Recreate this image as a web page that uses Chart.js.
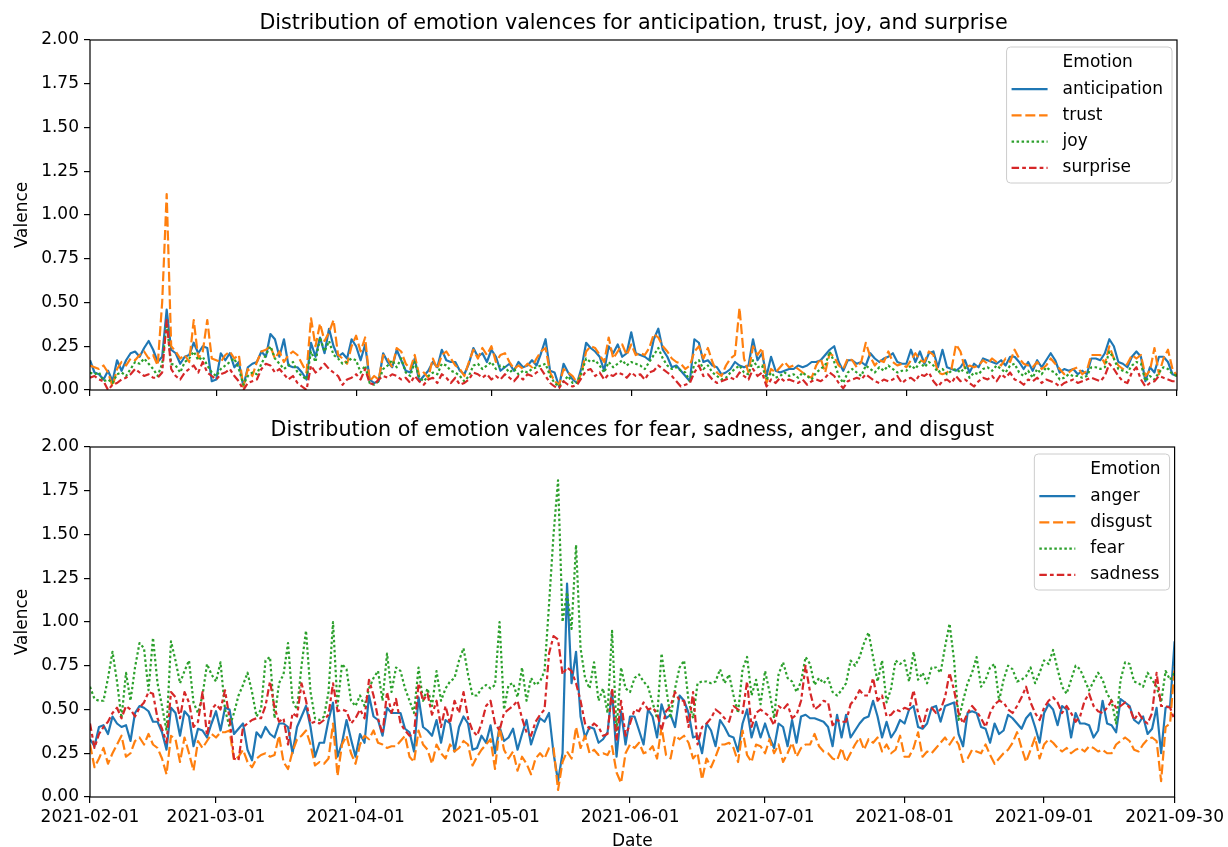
<!DOCTYPE html>
<html>
<head>
<meta charset="utf-8">
<script src="https://cdn.jsdelivr.net/npm/chart.js@4.4.1/dist/chart.umd.min.js"></script>
<style>
body { margin: 0; background: #fff; }
#wrap { position: relative; width: 1228px; height: 847px; }
canvas { position: absolute; left: 0; }
</style>
</head>
<body>
<div id="wrap">
  <canvas id="top_chart" width="1228" height="406" style="top:0px"></canvas>
  <canvas id="bottom_chart" width="1228" height="447" style="top:400px"></canvas>
</div>
<script>
// days since 2021-02-01 (one value per day, 2021-02-01 .. 2021-09-30)
const tickDays = [0, 28, 59, 89, 120, 150, 181, 212, 241];
const tickLabels = ['2021-02-01', '2021-03-01', '2021-04-01', '2021-05-01', '2021-06-01',
                    '2021-07-01', '2021-08-01', '2021-09-01', '2021-09-30'];

const topTitle = 'Distribution of emotion valences for anticipation, trust, joy, and surprise';
const bottomTitle = 'Distribution of emotion valences for fear, sadness, anger, and disgust';

const anticipation = [
  0.17,0.10,0.09,0.06,0.11,0.05,0.17,0.11,0.17,0.21,
  0.22,0.19,0.24,0.28,0.23,0.16,0.19,0.46,0.23,0.21,
  0.15,0.19,0.20,0.27,0.21,0.25,0.24,0.05,0.06,0.21,
  0.17,0.21,0.13,0.16,0.02,0.13,0.15,0.16,0.22,0.19,
  0.32,0.29,0.19,0.29,0.14,0.13,0.13,0.10,0.06,0.27,
  0.19,0.30,0.21,0.35,0.25,0.19,0.21,0.18,0.29,0.25,
  0.17,0.26,0.06,0.04,0.05,0.21,0.16,0.13,0.23,0.17,
  0.11,0.10,0.18,0.05,0.08,0.11,0.16,0.13,0.23,0.17,
  0.16,0.16,0.11,0.09,0.15,0.24,0.19,0.21,0.16,0.23,
  0.19,0.11,0.13,0.15,0.11,0.16,0.13,0.14,0.17,0.14,
  0.21,0.29,0.11,0.10,0.02,0.15,0.10,0.06,0.04,0.13,
  0.27,0.24,0.22,0.19,0.11,0.25,0.21,0.26,0.19,0.21,
  0.33,0.21,0.20,0.19,0.17,0.29,0.35,0.23,0.19,0.13,
  0.14,0.11,0.08,0.05,0.29,0.27,0.16,0.17,0.14,0.13,
  0.09,0.10,0.12,0.16,0.14,0.13,0.14,0.29,0.17,0.21,
  0.08,0.19,0.11,0.10,0.11,0.12,0.12,0.14,0.13,0.14,
  0.16,0.16,0.17,0.20,0.23,0.25,0.16,0.11,0.17,0.17,
  0.15,0.16,0.14,0.21,0.18,0.16,0.18,0.19,0.21,0.16,
  0.15,0.15,0.23,0.16,0.22,0.15,0.21,0.22,0.13,0.23,
  0.13,0.12,0.11,0.13,0.17,0.10,0.15,0.13,0.18,0.17,
  0.16,0.15,0.17,0.14,0.19,0.19,0.16,0.12,0.16,0.11,
  0.17,0.13,0.17,0.21,0.17,0.10,0.12,0.11,0.12,0.09,
  0.11,0.09,0.18,0.18,0.17,0.21,0.29,0.25,0.16,0.15,
  0.13,0.19,0.22,0.19,0.05,0.13,0.10,0.19,0.19,0.16,
  0.09,0.08
];
const trust = [
  0.14,0.13,0.12,0.14,0.10,0.02,0.12,0.16,0.14,0.18,
  0.17,0.20,0.22,0.18,0.20,0.14,0.50,1.12,0.25,0.22,
  0.18,0.20,0.16,0.40,0.18,0.22,0.40,0.18,0.17,0.16,
  0.20,0.22,0.18,0.20,0.02,0.12,0.08,0.16,0.22,0.23,
  0.25,0.18,0.22,0.16,0.20,0.22,0.20,0.15,0.10,0.41,
  0.25,0.38,0.28,0.33,0.40,0.20,0.18,0.15,0.25,0.31,
  0.22,0.30,0.05,0.08,0.06,0.20,0.18,0.13,0.24,0.22,
  0.15,0.12,0.20,0.08,0.10,0.07,0.18,0.12,0.20,0.22,
  0.18,0.14,0.12,0.08,0.16,0.23,0.18,0.24,0.20,0.25,
  0.16,0.20,0.21,0.16,0.12,0.14,0.12,0.15,0.13,0.18,
  0.22,0.24,0.10,0.05,0.03,0.12,0.10,0.08,0.04,0.10,
  0.22,0.25,0.24,0.20,0.16,0.30,0.18,0.22,0.26,0.20,
  0.26,0.20,0.21,0.20,0.24,0.32,0.30,0.25,0.22,0.18,
  0.16,0.15,0.12,0.14,0.22,0.25,0.18,0.24,0.16,0.10,
  0.08,0.14,0.18,0.20,0.47,0.18,0.10,0.25,0.20,0.24,
  0.04,0.12,0.10,0.13,0.16,0.13,0.14,0.12,0.10,0.08,
  0.07,0.14,0.18,0.10,0.21,0.19,0.14,0.12,0.18,0.17,
  0.13,0.16,0.27,0.19,0.14,0.17,0.16,0.22,0.16,0.14,
  0.15,0.13,0.17,0.21,0.17,0.16,0.22,0.20,0.10,0.09,
  0.10,0.12,0.26,0.22,0.12,0.14,0.13,0.14,0.17,0.15,
  0.18,0.16,0.14,0.18,0.16,0.23,0.18,0.15,0.14,0.13,
  0.16,0.12,0.14,0.18,0.15,0.12,0.09,0.10,0.12,0.13,
  0.09,0.11,0.20,0.20,0.20,0.15,0.25,0.18,0.14,0.12,
  0.15,0.20,0.18,0.20,0.08,0.11,0.24,0.09,0.18,0.23,
  0.12,0.08
];
const joy = [
  0.10,0.09,0.10,0.05,0.06,0.04,0.09,0.10,0.08,0.12,
  0.16,0.15,0.18,0.15,0.12,0.08,0.15,0.38,0.15,0.14,
  0.10,0.16,0.18,0.22,0.17,0.19,0.14,0.10,0.08,0.12,
  0.14,0.16,0.18,0.12,0.03,0.08,0.10,0.09,0.15,0.20,
  0.25,0.18,0.15,0.12,0.14,0.16,0.10,0.08,0.06,0.22,
  0.16,0.30,0.22,0.28,0.20,0.18,0.15,0.16,0.18,0.17,
  0.10,0.14,0.04,0.03,0.05,0.12,0.14,0.17,0.13,0.18,
  0.10,0.08,0.16,0.07,0.05,0.08,0.10,0.09,0.15,0.14,
  0.11,0.10,0.08,0.05,0.08,0.14,0.15,0.12,0.14,0.16,
  0.12,0.14,0.13,0.10,0.12,0.09,0.11,0.10,0.12,0.13,
  0.14,0.15,0.08,0.04,0.02,0.05,0.08,0.04,0.04,0.10,
  0.18,0.16,0.17,0.14,0.10,0.16,0.13,0.15,0.17,0.14,
  0.16,0.15,0.14,0.12,0.16,0.20,0.24,0.18,0.14,0.12,
  0.13,0.11,0.10,0.05,0.15,0.17,0.12,0.14,0.10,0.08,
  0.06,0.07,0.10,0.12,0.14,0.10,0.09,0.17,0.13,0.14,
  0.06,0.10,0.07,0.08,0.10,0.08,0.09,0.07,0.10,0.08,
  0.06,0.10,0.12,0.14,0.22,0.16,0.08,0.04,0.10,0.12,
  0.10,0.08,0.14,0.12,0.10,0.13,0.11,0.14,0.12,0.10,
  0.11,0.11,0.14,0.12,0.16,0.13,0.16,0.14,0.10,0.12,
  0.09,0.11,0.12,0.10,0.13,0.07,0.10,0.09,0.12,0.13,
  0.11,0.14,0.12,0.10,0.14,0.15,0.10,0.08,0.11,0.07,
  0.12,0.09,0.13,0.11,0.10,0.06,0.07,0.09,0.08,0.08,
  0.07,0.08,0.13,0.13,0.12,0.13,0.22,0.18,0.12,0.11,
  0.10,0.14,0.16,0.15,0.05,0.08,0.06,0.10,0.13,0.12,
  0.09,0.08
];
const surprise = [
  0.07,0.08,0.06,0.05,0.00,0.03,0.04,0.06,0.07,0.09,
  0.12,0.10,0.08,0.09,0.07,0.07,0.10,0.40,0.12,0.08,
  0.06,0.10,0.12,0.14,0.10,0.16,0.10,0.08,0.06,0.09,
  0.10,0.12,0.08,0.05,0.00,0.04,0.05,0.06,0.12,0.15,
  0.14,0.10,0.12,0.09,0.06,0.08,0.04,0.02,0.00,0.14,
  0.10,0.12,0.15,0.12,0.10,0.08,0.03,0.06,0.07,0.09,
  0.06,0.12,0.04,0.03,0.06,0.08,0.07,0.09,0.08,0.06,
  0.07,0.04,0.08,0.05,0.03,0.06,0.07,0.04,0.09,0.07,
  0.04,0.07,0.03,0.04,0.06,0.10,0.09,0.07,0.09,0.06,
  0.08,0.06,0.09,0.07,0.05,0.08,0.06,0.09,0.08,0.10,
  0.12,0.08,0.04,0.02,0.01,0.05,0.03,0.02,0.03,0.07,
  0.11,0.12,0.08,0.10,0.06,0.09,0.08,0.10,0.09,0.07,
  0.10,0.08,0.09,0.06,0.10,0.11,0.14,0.12,0.10,0.08,
  0.05,0.02,0.03,0.04,0.10,0.14,0.08,0.09,0.06,0.04,
  0.05,0.06,0.07,0.06,0.10,0.08,0.06,0.12,0.08,0.10,
  0.02,0.06,0.04,0.07,0.05,0.06,0.05,0.04,0.06,0.03,
  0.05,0.06,0.05,0.07,0.10,0.08,0.04,0.01,0.05,0.06,
  0.07,0.06,0.09,0.07,0.05,0.04,0.06,0.05,0.06,0.08,
  0.04,0.06,0.07,0.05,0.09,0.08,0.10,0.05,0.02,0.05,
  0.06,0.04,0.08,0.05,0.06,0.04,0.02,0.05,0.07,0.06,
  0.08,0.05,0.09,0.07,0.10,0.06,0.05,0.03,0.06,0.05,
  0.07,0.04,0.06,0.05,0.04,0.02,0.04,0.05,0.06,0.04,
  0.05,0.06,0.07,0.06,0.05,0.08,0.15,0.12,0.08,0.05,
  0.04,0.10,0.13,0.06,0.02,0.04,0.05,0.08,0.07,0.06,
  0.05,0.05
];

const anger = [
  0.33,0.29,0.40,0.41,0.36,0.46,0.42,0.40,0.41,0.32,
  0.48,0.52,0.51,0.49,0.43,0.43,0.37,0.27,0.51,0.48,
  0.35,0.49,0.46,0.29,0.39,0.38,0.34,0.42,0.49,0.38,
  0.51,0.50,0.36,0.39,0.42,0.27,0.21,0.37,0.34,0.40,
  0.36,0.34,0.42,0.42,0.40,0.25,0.40,0.46,0.52,0.40,
  0.23,0.31,0.31,0.44,0.54,0.23,0.31,0.44,0.33,0.23,
  0.36,0.31,0.58,0.46,0.44,0.35,0.51,0.48,0.48,0.48,
  0.39,0.37,0.26,0.57,0.40,0.38,0.35,0.44,0.31,0.44,
  0.42,0.26,0.40,0.46,0.42,0.27,0.28,0.35,0.31,0.41,
  0.25,0.40,0.32,0.34,0.39,0.27,0.36,0.44,0.30,0.38,
  0.45,0.43,0.48,0.25,0.09,0.25,1.22,0.65,0.83,0.46,
  0.34,0.40,0.39,0.31,0.33,0.37,0.61,0.23,0.49,0.30,
  0.46,0.46,0.38,0.30,0.50,0.46,0.34,0.53,0.45,0.47,
  0.40,0.58,0.55,0.48,0.34,0.35,0.25,0.42,0.38,0.29,
  0.44,0.40,0.35,0.34,0.26,0.42,0.50,0.34,0.43,0.34,
  0.42,0.34,0.28,0.42,0.40,0.29,0.44,0.31,0.46,0.47,
  0.45,0.45,0.44,0.43,0.40,0.29,0.47,0.34,0.47,0.34,
  0.38,0.42,0.45,0.46,0.55,0.46,0.34,0.43,0.34,0.38,
  0.44,0.42,0.50,0.52,0.40,0.39,0.42,0.51,0.52,0.43,
  0.52,0.53,0.54,0.36,0.29,0.48,0.49,0.48,0.40,0.39,
  0.31,0.42,0.36,0.38,0.47,0.45,0.42,0.39,0.45,0.48,
  0.40,0.31,0.48,0.53,0.50,0.41,0.52,0.50,0.34,0.48,
  0.42,0.42,0.41,0.34,0.38,0.55,0.42,0.41,0.37,0.56,
  0.54,0.52,0.44,0.42,0.46,0.36,0.39,0.51,0.25,0.51,
  0.52,0.89
];
const disgust = [
  0.30,0.17,0.22,0.28,0.19,0.25,0.30,0.35,0.23,0.25,
  0.32,0.34,0.30,0.36,0.30,0.28,0.22,0.13,0.35,0.33,
  0.20,0.34,0.25,0.15,0.32,0.28,0.32,0.36,0.34,0.37,
  0.37,0.38,0.21,0.23,0.27,0.20,0.17,0.22,0.24,0.25,
  0.23,0.24,0.35,0.20,0.16,0.26,0.33,0.35,0.38,0.30,
  0.18,0.20,0.19,0.22,0.42,0.12,0.30,0.35,0.25,0.19,
  0.30,0.35,0.33,0.38,0.31,0.30,0.28,0.29,0.29,0.32,
  0.35,0.23,0.20,0.38,0.30,0.27,0.19,0.30,0.25,0.22,
  0.30,0.26,0.28,0.32,0.30,0.18,0.23,0.27,0.30,0.33,
  0.16,0.40,0.27,0.22,0.26,0.15,0.23,0.19,0.13,0.22,
  0.25,0.22,0.28,0.28,0.04,0.20,0.26,0.22,0.40,0.28,
  0.35,0.25,0.27,0.24,0.25,0.24,0.29,0.14,0.08,0.25,
  0.30,0.28,0.31,0.25,0.26,0.29,0.22,0.40,0.24,0.22,
  0.35,0.33,0.35,0.31,0.22,0.25,0.10,0.22,0.17,0.23,
  0.30,0.30,0.31,0.28,0.20,0.38,0.24,0.20,0.30,0.29,
  0.25,0.33,0.25,0.30,0.20,0.25,0.31,0.23,0.28,0.30,
  0.30,0.36,0.29,0.26,0.25,0.22,0.21,0.28,0.20,0.25,
  0.30,0.34,0.27,0.33,0.31,0.34,0.26,0.30,0.25,0.27,
  0.35,0.23,0.23,0.28,0.37,0.23,0.26,0.25,0.28,0.31,
  0.34,0.30,0.34,0.30,0.20,0.22,0.27,0.26,0.25,0.30,
  0.24,0.19,0.22,0.25,0.27,0.31,0.37,0.28,0.20,0.27,
  0.34,0.22,0.30,0.33,0.31,0.28,0.26,0.28,0.25,0.27,
  0.28,0.26,0.29,0.28,0.26,0.27,0.25,0.25,0.30,0.32,
  0.34,0.32,0.27,0.26,0.30,0.33,0.34,0.32,0.09,0.40,
  0.42,0.75
];
const fear = [
  0.63,0.56,0.55,0.55,0.68,0.83,0.66,0.45,0.71,0.55,
  0.74,0.88,0.85,0.61,0.91,0.65,0.52,0.38,0.89,0.78,
  0.65,0.72,0.78,0.54,0.48,0.58,0.76,0.70,0.66,0.77,
  0.50,0.40,0.48,0.58,0.64,0.71,0.60,0.46,0.50,0.78,
  0.80,0.45,0.65,0.70,0.88,0.55,0.50,0.75,0.95,0.60,
  0.45,0.44,0.46,0.60,1.00,0.52,0.76,0.73,0.55,0.52,
  0.58,0.52,0.62,0.68,0.72,0.55,0.82,0.60,0.74,0.72,
  0.62,0.55,0.48,0.74,0.55,0.62,0.52,0.72,0.55,0.62,
  0.66,0.68,0.78,0.85,0.70,0.58,0.58,0.62,0.64,0.62,
  0.64,1.00,0.50,0.64,0.65,0.57,0.74,0.55,0.68,0.64,
  0.66,0.72,1.10,1.50,1.81,1.00,1.17,0.96,1.44,0.85,
  0.68,0.62,0.77,0.55,0.62,0.48,0.95,0.38,0.74,0.62,
  0.60,0.68,0.70,0.66,0.63,0.54,0.45,0.82,0.63,0.45,
  0.62,0.74,0.78,0.55,0.45,0.65,0.66,0.66,0.65,0.66,
  0.73,0.65,0.70,0.58,0.48,0.73,0.80,0.58,0.67,0.53,
  0.72,0.60,0.45,0.70,0.77,0.68,0.66,0.60,0.66,0.80,
  0.76,0.64,0.68,0.65,0.68,0.60,0.58,0.61,0.65,0.78,
  0.75,0.80,0.88,0.94,0.80,0.66,0.78,0.54,0.62,0.78,
  0.76,0.78,0.66,0.83,0.67,0.71,0.65,0.74,0.74,0.71,
  0.86,0.99,0.78,0.44,0.55,0.65,0.71,0.80,0.63,0.67,
  0.74,0.76,0.55,0.67,0.75,0.73,0.66,0.67,0.69,0.74,
  0.65,0.71,0.78,0.76,0.84,0.73,0.63,0.59,0.67,0.75,
  0.73,0.67,0.61,0.66,0.71,0.67,0.59,0.55,0.42,0.67,
  0.77,0.76,0.66,0.65,0.63,0.71,0.67,0.63,0.54,0.72,
  0.67,0.71
];
const sadness = [
  0.42,0.28,0.36,0.40,0.43,0.48,0.51,0.45,0.52,0.50,
  0.46,0.51,0.54,0.60,0.59,0.45,0.39,0.31,0.60,0.57,
  0.45,0.60,0.54,0.40,0.43,0.60,0.35,0.50,0.53,0.50,
  0.61,0.45,0.22,0.21,0.40,0.42,0.44,0.45,0.45,0.52,
  0.66,0.51,0.43,0.45,0.30,0.48,0.46,0.65,0.55,0.42,
  0.43,0.42,0.44,0.47,0.65,0.49,0.50,0.49,0.42,0.45,
  0.50,0.45,0.67,0.58,0.45,0.36,0.60,0.48,0.56,0.42,
  0.38,0.35,0.36,0.65,0.55,0.59,0.47,0.55,0.40,0.52,
  0.42,0.55,0.48,0.60,0.45,0.38,0.35,0.42,0.52,0.55,
  0.42,0.38,0.48,0.50,0.52,0.55,0.45,0.37,0.35,0.43,
  0.47,0.50,0.82,0.92,0.90,0.70,0.74,0.72,0.65,0.55,
  0.42,0.39,0.42,0.40,0.35,0.36,0.62,0.32,0.55,0.35,
  0.42,0.50,0.49,0.54,0.50,0.51,0.48,0.38,0.49,0.52,
  0.60,0.55,0.55,0.40,0.60,0.30,0.40,0.42,0.45,0.50,
  0.48,0.45,0.43,0.52,0.50,0.48,0.66,0.40,0.48,0.50,
  0.48,0.46,0.41,0.52,0.50,0.53,0.45,0.47,0.55,0.75,
  0.60,0.50,0.52,0.55,0.54,0.41,0.44,0.43,0.43,0.53,
  0.56,0.61,0.58,0.58,0.68,0.55,0.58,0.46,0.47,0.50,
  0.49,0.51,0.50,0.61,0.48,0.40,0.50,0.51,0.48,0.50,
  0.57,0.71,0.61,0.48,0.42,0.48,0.52,0.49,0.45,0.40,
  0.48,0.53,0.55,0.54,0.50,0.48,0.52,0.57,0.63,0.54,
  0.48,0.44,0.51,0.55,0.57,0.54,0.48,0.52,0.48,0.43,
  0.46,0.55,0.59,0.52,0.49,0.48,0.51,0.55,0.51,0.52,
  0.54,0.51,0.44,0.48,0.44,0.42,0.48,0.71,0.52,0.52,
  0.51,0.44
];

const colors = ['#1f77b4', '#ff7f0e', '#2ca02c', '#d62728'];
const dashes = [[], [10, 3.75], [2.5, 2.5], [7.5, 3.1, 3.75, 3.1]];
const FONT = '"DejaVu Sans", "Liberation Sans", sans-serif';

Chart.defaults.font.family = FONT;
Chart.defaults.font.size = 17;
Chart.defaults.color = '#000';

function makeSet(label, values, i) {
    return {
        label: label,
        data: values.map((v, d) => ({ x: d, y: v })),
        borderColor: colors[i],
        borderDash: dashes[i],
        borderWidth: 2.2,
        borderJoinStyle: 'round',
        pointRadius: 0,
        tension: 0,
        fill: false,
        clip: 0,
        order: 3 - i // later series drawn on top, like matplotlib
    };
}

// spines, title, axis labels and the legend, drawn the matplotlib way
const framePlugin = {
    id: 'frame',
    afterDraw(chart, args, opts) {
        const ctx = chart.ctx;
        const a = chart.chartArea;
        ctx.save();
        ctx.strokeStyle = '#000';
        ctx.lineWidth = 1.2;
        ctx.strokeRect(a.left, a.top, a.right - a.left, a.bottom - a.top);

        ctx.fillStyle = '#000';
        ctx.font = '20.7px ' + FONT;
        ctx.textAlign = 'center';
        ctx.textBaseline = 'alphabetic';
        ctx.fillText(opts.title, (a.left + a.right) / 2, a.top - 11);

        ctx.font = '17px ' + FONT;
        if (opts.xlabel) {
            ctx.textBaseline = 'middle';
            ctx.fillText(opts.xlabel, (a.left + a.right) / 2, a.bottom + 45);
        }
        ctx.save();
        ctx.translate(23, (a.top + a.bottom) / 2);
        ctx.rotate(-Math.PI / 2);
        ctx.textBaseline = 'middle';
        ctx.fillText('Valence', 0, 0);
        ctx.restore();

        // legend
        const sets = chart.data.datasets;
        const labels = ['Emotion'].concat(sets.map(s => s.label));
        const maxW = Math.max(...labels.map(t => ctx.measureText(t).width));
        const right = a.right - 5;
        const top = a.top + 7;
        const textX = right - 9 - maxW;
        const h1 = textX - 15;
        const h0 = h1 - 36;
        const left = h0 - 5;
        ctx.beginPath();
        ctx.roundRect(left, top, right - left, 136, 4);
        ctx.fillStyle = 'rgba(255,255,255,0.8)';
        ctx.fill();
        ctx.strokeStyle = '#cccccc';
        ctx.lineWidth = 1;
        ctx.stroke();
        ctx.fillStyle = '#000';
        ctx.textAlign = 'left';
        ctx.textBaseline = 'middle';
        labels.forEach((t, k) => {
            const y = top + 16 + k * 26.2;
            ctx.fillText(t, textX, y);
            if (k > 0) {
                const s = sets[k - 1];
                ctx.save();
                ctx.setLineDash(s.borderDash);
                ctx.strokeStyle = s.borderColor;
                ctx.lineWidth = s.borderWidth;
                ctx.beginPath();
                ctx.moveTo(h0, y);
                ctx.lineTo(h1, y);
                ctx.stroke();
                ctx.restore();
            }
        });
        ctx.restore();
    }
};

function makeOptions(title, showDates, xlabel, padTop, xHeight) {
    return {
        responsive: false,
        animation: false,
        layout: { padding: { left: 0, right: 51, top: padTop, bottom: 0 } },
        plugins: {
            legend: { display: false },
            tooltip: { enabled: false },
            frame: { title: title, xlabel: xlabel }
        },
        scales: {
            x: {
                type: 'linear',
                min: 0,
                max: 241,
                afterBuildTicks: (scale) => { scale.ticks = tickDays.map(v => ({ value: v })); },
                afterFit: (scale) => { scale.height = xHeight; },
                ticks: {
                    autoSkip: false,
                    maxRotation: 0,
                    padding: 4,
                    callback: (value, index) => showDates ? tickLabels[index] : ''
                },
                grid: { drawOnChartArea: false, drawTicks: true, tickLength: 6, color: '#000', lineWidth: 1.2 },
                border: { display: false }
            },
            y: {
                min: 0,
                max: 2,
                afterFit: (scale) => { scale.width = 90; },
                ticks: {
                    stepSize: 0.25,
                    padding: 5,
                    callback: (value) => value.toFixed(2)
                },
                grid: { drawOnChartArea: false, drawTicks: true, tickLength: 6, color: '#000', lineWidth: 1.2 },
                border: { display: false }
            }
        }
    };
}

Chart.register(framePlugin);

// top canvas is 406 tall: the y labels reserve ~15px below the plot, so the x strip is 16px
new Chart(document.getElementById('top_chart'), {
    type: 'line',
    data: {
        datasets: [
            makeSet('anticipation', anticipation, 0),
            makeSet('trust', trust, 1),
            makeSet('joy', joy, 2),
            makeSet('surprise', surprise, 3)
        ]
    },
    options: makeOptions(topTitle, false, '', 40, 16)
});

new Chart(document.getElementById('bottom_chart'), {
    type: 'line',
    data: {
        datasets: [
            makeSet('anger', anger, 0),
            makeSet('disgust', disgust, 1),
            makeSet('fear', fear, 2),
            makeSet('sadness', sadness, 3)
        ]
    },
    options: makeOptions(bottomTitle, true, 'Date', 47, 50)
});
</script>
</body>
</html>
